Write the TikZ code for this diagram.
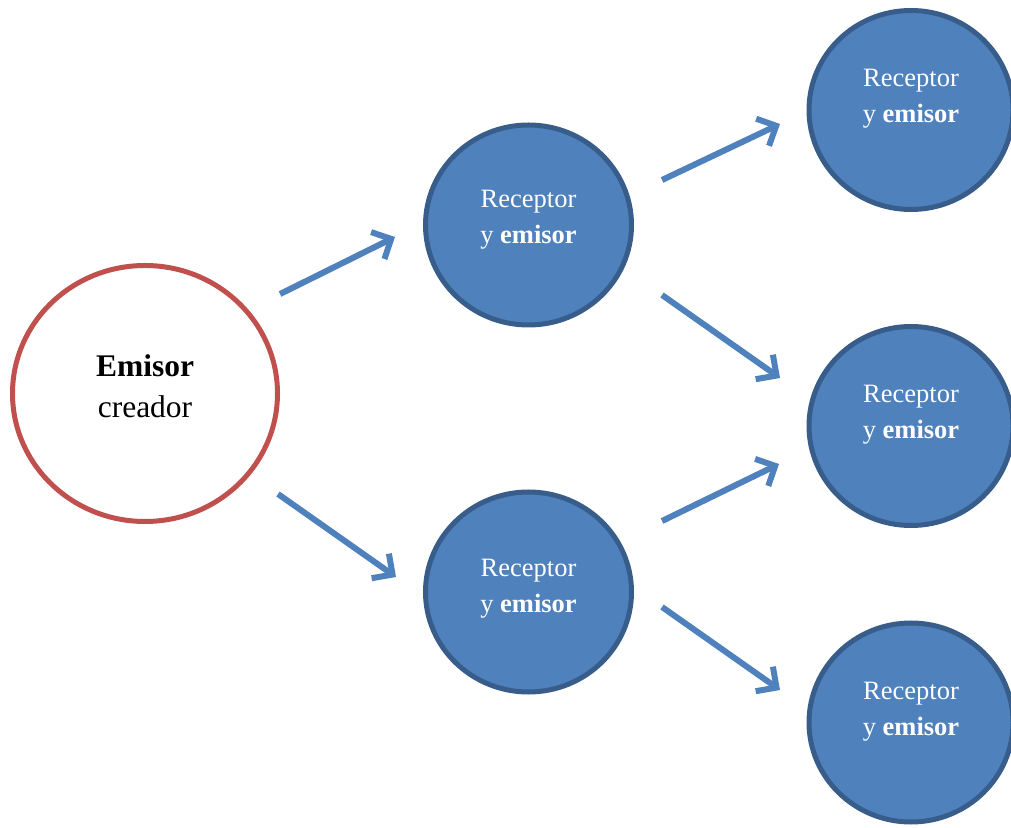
\documentclass[tikz,border=0pt]{standalone}
\usepackage{fontspec}
\setmainfont{Liberation Serif}
\usetikzlibrary{arrows.meta,positioning,shapes.geometric}
\definecolor{azul}{HTML}{4F81BD}
\definecolor{azulborde}{HTML}{385D8A}
\definecolor{rojo}{HTML}{C0504D}
\tikzset{
  receptor/.style={ellipse,draw=azulborde,fill=azul,line width=5pt,inner sep=0pt,
    minimum width=206pt,minimum height=200pt},
  rtexto/.style={align=center,text=white,font=\fontsize{26.5}{36}\selectfont},
  flecha/.style={draw=azul,line width=6pt,-{Straight Barb[length=15pt,width=30pt]},
    preaction={draw=black,opacity=0.12,transform canvas={shift={(1.5pt,-2.5pt)}}}}
}
\begin{document}
\begin{tikzpicture}[x=1pt,y=1pt]
\useasboundingbox (0,0) rectangle (1011,827);
\clip (0,0) rectangle (1011,827);
% circulos
\node (e) [ellipse,draw=rojo,fill=white,line width=5pt,inner sep=0pt,
  minimum width=265pt,minimum height=256pt] at (145,433.5) {};
\node (m1) [receptor] at (528.5,602) {};
\node (m2) [receptor] at (528.5,235) {};
\node (d1) [receptor,minimum width=204pt,minimum height=199pt] at (911,717) {};
\node (d2) [receptor,minimum width=204pt,minimum height=199pt] at (911,401) {};
\node (d3) [receptor,minimum width=204pt,minimum height=199pt] at (911,104.5) {};
%
\node (te) [align=center,font=\fontsize{31.5}{41}\selectfont] at ([yshift=7pt]e.center) {\textbf{Emisor}\\creador};
\node (tm1) [rtexto] at ([yshift=5pt]m1.center) {Receptor\\y \textbf{emisor}};
\node (tm2) [rtexto] at ([yshift=3pt]m2.center) {Receptor\\y \textbf{emisor}};
\node (td1) [rtexto] at ([yshift=11pt]d1.center) {Receptor\\y \textbf{emisor}};
\node (td2) [rtexto] at ([yshift=11pt]d2.center) {Receptor\\y \textbf{emisor}};
\node (td3) [rtexto] at ([yshift=11pt]d3.center) {Receptor\\y \textbf{emisor}};
% flechas
\draw[flecha] ([shift={(135,99.5)}]e.center) -- ([shift={(-133.5,-12)}]m1.center);
\draw[flecha] ([shift={(133,-100.5)}]e.center) -- ([shift={(-132.5,15)}]m2.center);
\draw[flecha] ([shift={(133.5,45)}]m1.center) -- ([shift={(-131,-14)}]d1.center);
\draw[flecha] ([shift={(133.5,-70)}]m1.center) -- ([shift={(-131,48)}]d2.center);
\draw[flecha] ([shift={(133.5,71)}]m2.center) -- ([shift={(-132,-38)}]d2.center);
\draw[flecha] ([shift={(133.5,-15)}]m2.center) -- ([shift={(-131,32.5)}]d3.center);
\end{tikzpicture}
\end{document}
